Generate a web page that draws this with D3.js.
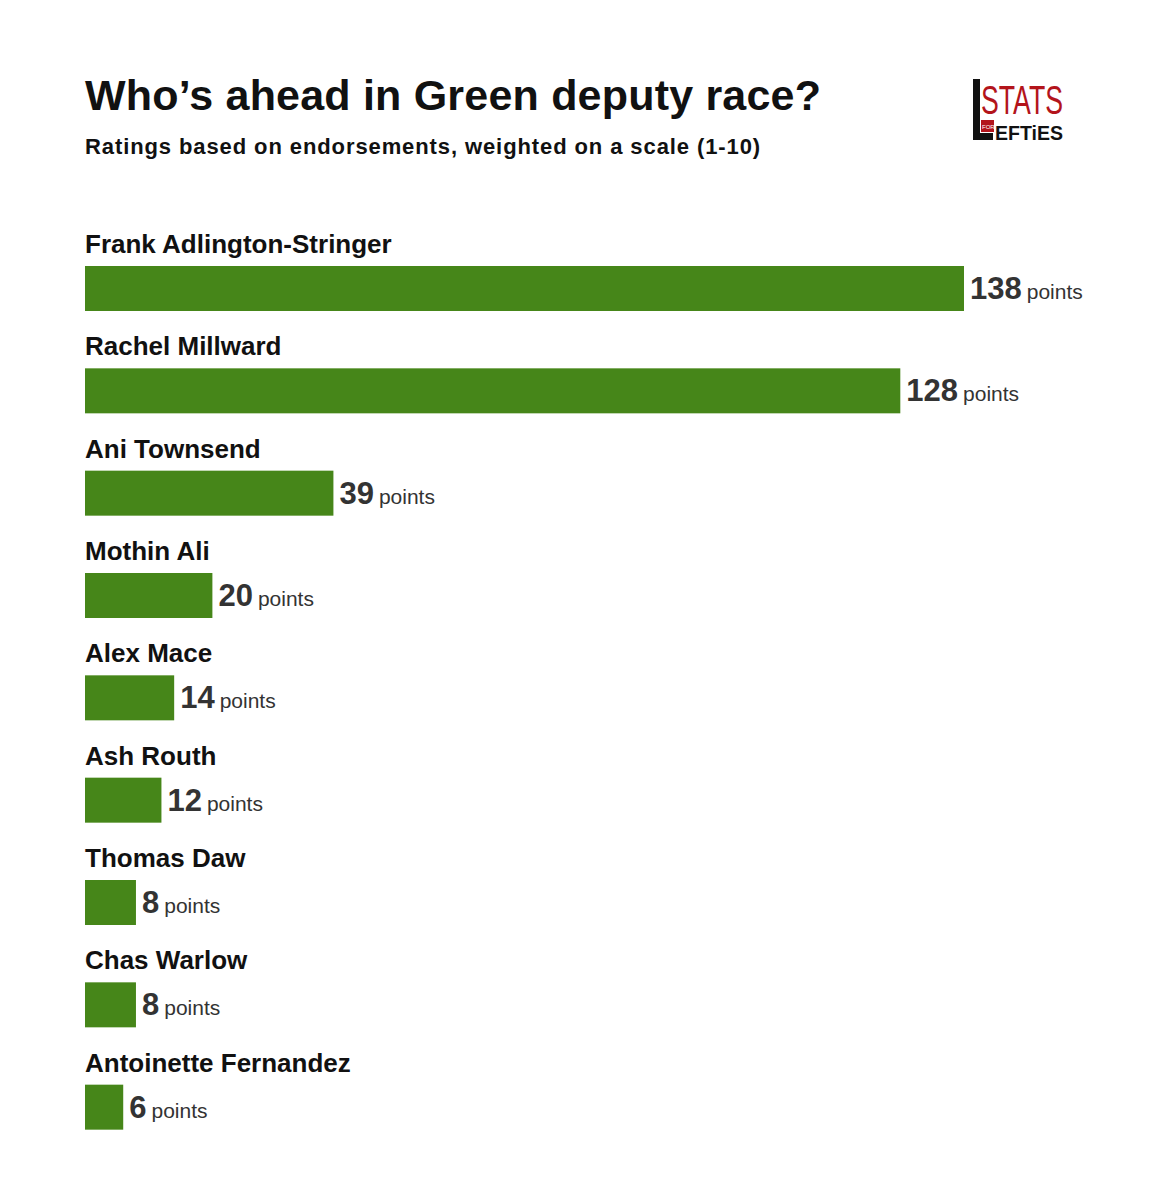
<!DOCTYPE html>
<html><head><meta charset="utf-8">
<script src="https://cdn.jsdelivr.net/npm/d3@7"></script>
<style>body{margin:0;background:#fff;font-family:"Liberation Sans",Arial,sans-serif}</style>
</head><body><svg id="c" width="1165" height="1200"></svg>
<script>
const names=["Frank Adlington-Stringer","Rachel Millward","Ani Townsend","Mothin Ali","Alex Mace","Ash Routh","Thomas Daw","Chas Warlow","Antoinette Fernandez"];
const values=[138,128,39,20,14,12,8,8,6];
const unit="points";
const svg=d3.select("#c");
svg.append("rect").attr("width",1165).attr("height",1200).attr("fill","#fff");
svg.append("text").attr("x",85).attr("y",110).attr("font-size",43).attr("font-weight","bold").attr("fill","#111").attr("letter-spacing",0.2).text("Who’s ahead in Green deputy race?");
svg.append("text").attr("x",85).attr("y",154).attr("font-size",22).attr("font-weight","bold").attr("fill","#111").attr("letter-spacing",0.9).text("Ratings based on endorsements, weighted on a scale (1-10)");
const x=d3.scaleLinear().domain([0,138]).range([85,964]);
const y=d3.scaleBand().domain(names).range([232,1153]).paddingInner(0);
const g=svg.selectAll("g.row").data(names).join("g");
g.append("text").attr("x",85).attr("y",n=>y(n)+21).attr("font-size",26).attr("font-weight","bold").attr("fill","#111").text(n=>n);
g.append("rect").attr("x",x(0)).attr("y",n=>y(n)+34).attr("height",45).attr("width",(n,i)=>x(values[i])-x(0)).attr("fill","#468619");
const t=g.append("text").attr("x",(n,i)=>x(values[i])+6).attr("y",n=>y(n)+67).attr("fill","#333");
t.append("tspan").attr("font-size",31).attr("font-weight","bold").text((n,i)=>values[i]);
t.append("tspan").attr("font-size",21).attr("dx",5).text(unit);
// logo
const L=svg.append("g");
L.append("rect").attr("x",973).attr("y",79).attr("width",7).attr("height",61).attr("fill","#111");
L.append("rect").attr("x",973).attr("y",133).attr("width",20).attr("height",7).attr("fill","#111");
L.append("text").attr("x",981).attr("y",114).attr("font-size",40).attr("font-family","Liberation Sans Narrow, Liberation Sans").attr("fill","#b3141b").attr("textLength",82).attr("lengthAdjust","spacingAndGlyphs").text("STATS");
L.append("rect").attr("x",981).attr("y",120).attr("width",13).attr("height",12).attr("fill","#b3141b");
L.append("text").attr("x",982).attr("y",129).attr("font-size",6).attr("fill","#fff").text("FOR");
L.append("text").attr("x",995).attr("y",140).attr("font-size",21).attr("font-weight","bold").attr("fill","#111").attr("textLength",68).attr("lengthAdjust","spacingAndGlyphs").text("EFTiES");
</script></body></html>
